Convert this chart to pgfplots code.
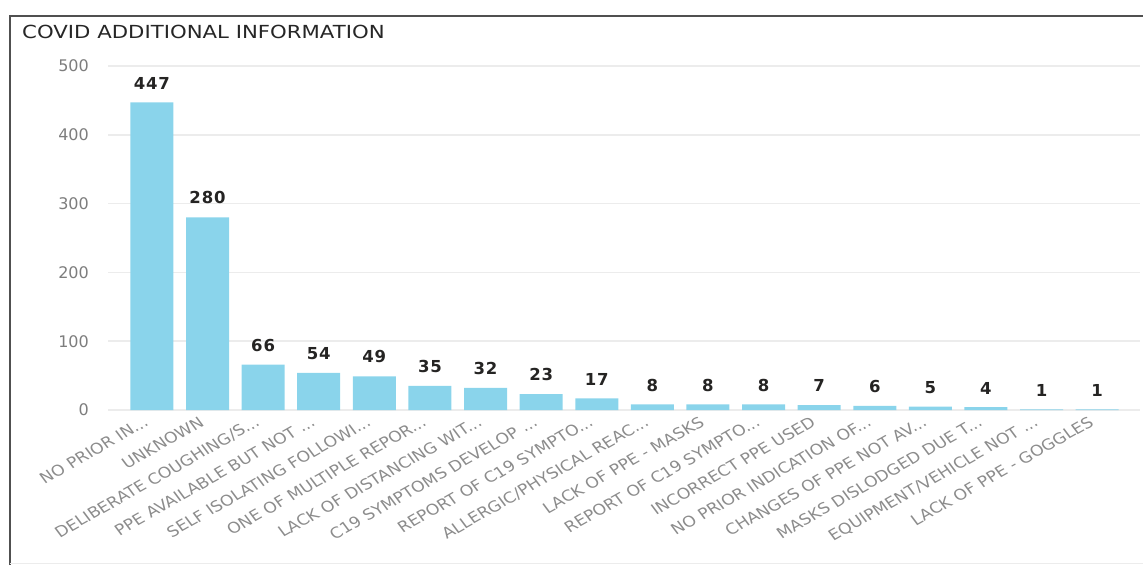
\documentclass[border=0pt]{standalone}
\usepackage{fontspec}
\setmainfont{DejaVu Sans}
\usepackage{pgfplots}
\pgfplotsset{compat=1.18}
\definecolor{barblue}{RGB}{138,212,235}
\definecolor{gridgray}{RGB}{236,236,236}
\definecolor{tickgray}{RGB}{125,125,125}
\definecolor{xlabgray}{RGB}{140,140,140}
\definecolor{framegray}{RGB}{80,80,80}
\definecolor{labeldark}{RGB}{37,36,35}
\newcommand{\el}{...}

\begin{document}
\begin{tikzpicture}[x=1pt,y=1pt]
\path[use as bounding box] (0,0) rectangle (1143,565);
\draw[framegray, line width=2pt] (10,0) -- (10,549) -- (1143,549);
\draw[gray!15, line width=1pt] (10,2) -- (1143,2);
\node[anchor=base west, inner sep=0pt, xscale=1.18, font=\fontsize{18}{20}\selectfont, text=black!85] at (22,526) {COVID ADDITIONAL INFORMATION};
\begin{axis}[
    at={(108pt,155pt)}, anchor=south west,
    scale only axis, width=1032pt, height=344pt,
    xmin=-0.79, xmax=17.77, ymin=0, ymax=500,
    /pgf/number format/assume math mode=true,
    axis line style={draw=none},
    major tick length=0pt,
    ymajorgrids, grid style={gridgray, line width=1.5pt},
    ytick={0,100,200,300,400,500},
    yticklabel style={font=\fontsize{16}{18}\selectfont, text=tickgray, anchor=east, inner sep=0pt, xshift=-19pt},
    xtick={0,1,2,3,4,5,6,7,8,9,10,11,12,13,14,15,16,17},
    xticklabels={NO PRIOR IN\el,UNKNOWN,DELIBERATE COUGHING/S\el,PPE AVAILABLE BUT NOT \el,SELF ISOLATING FOLLOWI\el,ONE OF MULTIPLE REPOR\el,LACK OF DISTANCING WIT\el,C19 SYMPTOMS DEVELOP \el,REPORT OF C19 SYMPTO\el,ALLERGIC/PHYSICAL REAC\el,LACK OF PPE - MASKS,REPORT OF C19 SYMPTO\el,INCORRECT PPE USED,NO PRIOR INDICATION OF\el,CHANGES OF PPE NOT AV\el,MASKS DISLODGED DUE T\el,EQUIPMENT/VEHICLE NOT \el,LACK OF PPE - GOGGLES},
    xticklabel style={xshift=-9pt, yshift=-4pt, xscale=1.15, rotate=33, anchor=north east, inner sep=1pt, font=\fontsize{15}{17}\selectfont, text=xlabgray},
    ybar, bar width=43pt,
    nodes near coords,
    every node near coord/.append style={font=\bfseries\fontsize{16.5}{18}\selectfont\addfontfeature{LetterSpace=5}, text=labeldark, anchor=south, inner sep=0pt, yshift=13pt},
    clip=false,
]
\addplot[fill=barblue, draw=none] coordinates {
    (0,447) (1,280) (2,66) (3,54) (4,49) (5,35) (6,32) (7,23) (8,17)
    (9,8) (10,8) (11,8) (12,7) (13,6) (14,5) (15,4) (16,1) (17,1)
};
\end{axis}
\end{tikzpicture}
\end{document}
